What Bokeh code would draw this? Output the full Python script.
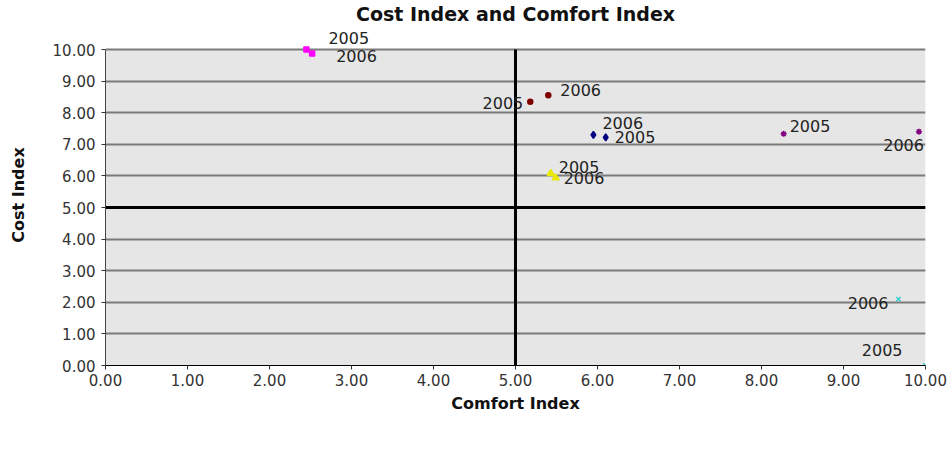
from bokeh.plotting import figure
from bokeh.models import (ColumnDataSource, LabelSet, FixedTicker, NumeralTickFormatter,
                          Legend, LegendItem, Range1d, BoxAnnotation)
from bokeh.core.properties import value
from bokeh.embed import file_html
from bokeh.resources import INLINE

# ---- data ----
airlines = ["easyJet", "Ryanair", "Norwegian", "FlyBe", "SkyEurope", "Air Berlin"]
years = ["2005", "2006"]
comfort_2005 = [6.10, 2.45, 5.43, 10.00, 8.27, 5.18]
cost_2005 = [7.22, 10.00, 6.08, 0.00, 7.33, 8.35]
comfort_2006 = [5.95, 2.52, 5.49, 9.67, 9.92, 5.40]
cost_2006 = [7.30, 9.87, 5.94, 2.10, 7.40, 8.55]
axis_ticks = [0, 1, 2, 3, 4, 5, 6, 7, 8, 9, 10]
axis_min, axis_max, divider = 0, 10, 5

# ---- styling ----
colors = {"easyJet": "#000080", "Ryanair": "#FF00FF", "Norwegian": "#E8E800",
          "FlyBe": "#33CCCC", "SkyEurope": "#800080", "Air Berlin": "#800000"}
markers = {"easyJet": "diamond", "Ryanair": "square", "Norwegian": "triangle",
           "FlyBe": "x", "SkyEurope": "asterisk", "Air Berlin": "circle"}
sizes = {"easyJet": 7, "Ryanair": 5, "Norwegian": 7, "FlyBe": 6, "SkyEurope": 6, "Air Berlin": 5}
# label placement: (dx px, dy px upward, align)
label_place = {
    ("easyJet", "2005"): (9, 0, "left"), ("easyJet", "2006"): (9, 12, "left"),
    ("Ryanair", "2005"): (22, 12, "left"), ("Ryanair", "2006"): (24, -2, "left"),
    ("Norwegian", "2005"): (8, 6, "left"), ("Norwegian", "2006"): (8, 0, "left"),
    ("FlyBe", "2005"): (-23, 16, "right"), ("FlyBe", "2006"): (-10, -4, "right"),
    ("SkyEurope", "2005"): (6, 8, "left"), ("SkyEurope", "2006"): (5, -13, "right"),
    ("Air Berlin", "2005"): (-7, -1, "right"), ("Air Berlin", "2006"): (12, 5, "left"),
}

FONT = "DejaVu Sans"
PX_PER_UNIT = 31.6
TOP_ROOM = 25  # px of white space above the plot area for the outside label
PLOT_PX = int(round(PX_PER_UNIT * (axis_max - axis_min)))

p = figure(frame_width=820, frame_height=PLOT_PX + TOP_ROOM, output_backend="svg",
           toolbar_location=None,
           x_range=Range1d(axis_min, axis_max),
           y_range=Range1d(axis_min, axis_max + TOP_ROOM / PX_PER_UNIT),
           title="Cost Index and Comfort Index",
           min_border_left=105, min_border_right=26, min_border_top=24, min_border_bottom=0)

p.background_fill_color = "white"
p.border_fill_color = "white"
p.outline_line_color = None
p.add_layout(BoxAnnotation(left=axis_min, right=axis_max, bottom=axis_min, top=axis_max,
                           fill_color="#e6e6e6", fill_alpha=1, line_color=None, level="image"))

p.title.align = "center"
p.title.text_font = FONT
p.title.text_font_size = "19px"
p.title.text_font_style = "bold"
p.title.text_color = "#111111"
p.title.standoff = 0

ticker = FixedTicker(ticks=axis_ticks)
for ax in (p.xaxis[0], p.yaxis[0]):
    ax.ticker = ticker
    ax.formatter = NumeralTickFormatter(format="0.00")
    ax.minor_tick_line_color = None
    ax.major_tick_in = 0
    ax.major_tick_out = 4
    ax.major_tick_line_color = "#333333"
    ax.major_label_text_font = FONT
    ax.major_label_text_font_size = "15px"
    ax.major_label_text_color = "#333333"
    ax.axis_label_text_font = FONT
    ax.axis_label_text_font_size = "16px"
    ax.axis_label_text_font_style = "bold"
    ax.axis_label_text_color = "#111111"

p.yaxis.bounds = (axis_min, axis_max)
p.xaxis.axis_label = "Comfort Index"
p.yaxis.axis_label = "Cost Index"
p.xaxis.axis_line_color = "black"
p.yaxis.axis_line_color = "#444444"
p.yaxis.major_label_standoff = 6
p.xaxis.major_label_standoff = 4
p.yaxis.axis_label_standoff = 22
p.xaxis.axis_label_standoff = 5

p.xgrid.visible = False
p.ygrid.ticker = ticker
p.ygrid.grid_line_color = "#7a7a7a"
p.ygrid.grid_line_width = 2

# quadrant dividers
p.segment(x0=[divider], y0=[axis_min], x1=[divider], y1=[axis_max], line_color="black", line_width=3)
p.segment(x0=[axis_min], y0=[divider], x1=[axis_max], y1=[divider], line_color="black", line_width=3)

items = []
lab = {"left": dict(x=[], y=[], t=[], dx=[], dy=[]), "right": dict(x=[], y=[], t=[], dx=[], dy=[])}
for i, name in enumerate(airlines):
    xs = [comfort_2005[i], comfort_2006[i]]
    ys = [cost_2005[i], cost_2006[i]]
    src = ColumnDataSource(dict(x=xs, y=ys))
    r = p.scatter("x", "y", source=src, marker=markers[name], size=sizes[name],
                  fill_color=colors[name], line_color=colors[name], line_width=1.5)
    items.append(LegendItem(label=name, renderers=[r]))
    for j, yr in enumerate(years):
        dx, dy, al = label_place[(name, yr)]
        d = lab[al]
        d["x"].append(xs[j]); d["y"].append(ys[j]); d["t"].append(yr)
        d["dx"].append(dx); d["dy"].append(dy)

for al, d in lab.items():
    ls = LabelSet(x="x", y="y", text="t", x_offset="dx", y_offset="dy",
                  source=ColumnDataSource(d), text_align=al, text_baseline="middle",
                  text_font=value(FONT), text_font_size=value("16px"), text_color="#222222")
    p.add_layout(ls)

legend = Legend(items=items, orientation="horizontal", location="top_center",
                border_line_color=None, background_fill_alpha=0,
                label_text_font=FONT, label_text_font_size="14px", label_text_color="#111111",
                glyph_width=10, glyph_height=10, label_standoff=3, spacing=8,
                padding=2, margin=0)
p.add_layout(legend, "below")

open("out.html", "w").write(file_html(p, INLINE))
